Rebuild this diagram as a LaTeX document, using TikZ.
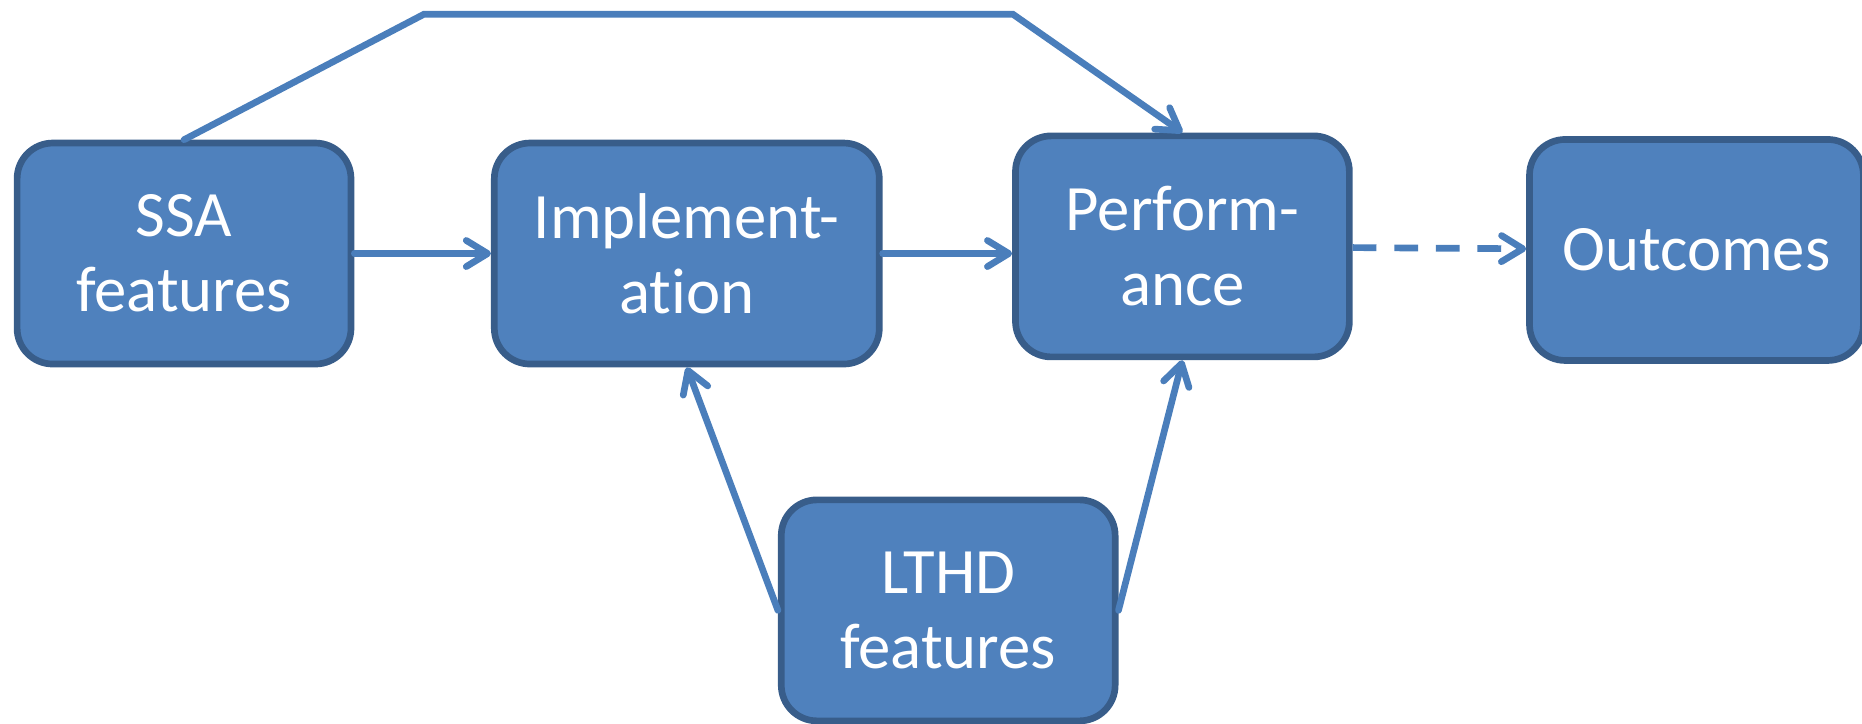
\documentclass[tikz,border=0pt]{standalone}
\usepackage{fontspec}
\setmainfont{Carlito}[Ligatures=NoCommon]
\usetikzlibrary{arrows.meta,positioning}
\definecolor{boxfill}{HTML}{4F81BD}
\definecolor{boxline}{HTML}{385D8A}
\definecolor{linkblue}{HTML}{4A7EBB}

\begin{document}
\begin{tikzpicture}
[x=0.01cm,y=-0.01cm,node distance=1.15cm,>={Straight Barb[length=1.8mm,width=2.2mm,round]},
 font=\fontsize{15.5}{18}\selectfont]
\tikzstyle{block}=[rectangle, rounded corners=0.3cm, draw=boxline, line width=1.6pt, fill=boxfill, text=white, align=center, minimum width=2.81cm, minimum height=1.86cm]
\tikzstyle{link}=[linkblue, line width=1.6pt, line cap=round]

\useasboundingbox (0,0) rectangle (1568,609);

\node[block] (ssa) at (155,213.5) {SSA\\features};
\node[block, minimum width=3.24cm] (impl) [right=of ssa] {Implement-\\ation};
\node[block] (perf) [right=1.09cm of impl, yshift=0.06cm] {Perform-\\ance};
\node[block] (outc) [right=1.46cm of perf, yshift=-0.03cm] {Outcomes};
\node[block] (lthd) at (798.5,514) {LTHD\\features};

\coordinate (tl) at (357,12);
\coordinate (tr) at (853,12);

\path[->, link]
			(ssa) 	edge (impl)
			(impl.east) 	edge (impl.east -| perf.west)
			(perf) 	edge [dash pattern=on 0.2cm off 0.15cm, line cap=butt] (outc)
			(lthd.west) 	edge (impl.south)
			(lthd.east) 	edge (perf.south)
			;
\draw[->, link] (ssa.north) -- (tl) -- (tr) -- (perf.north);
\end{tikzpicture}
\end{document}
